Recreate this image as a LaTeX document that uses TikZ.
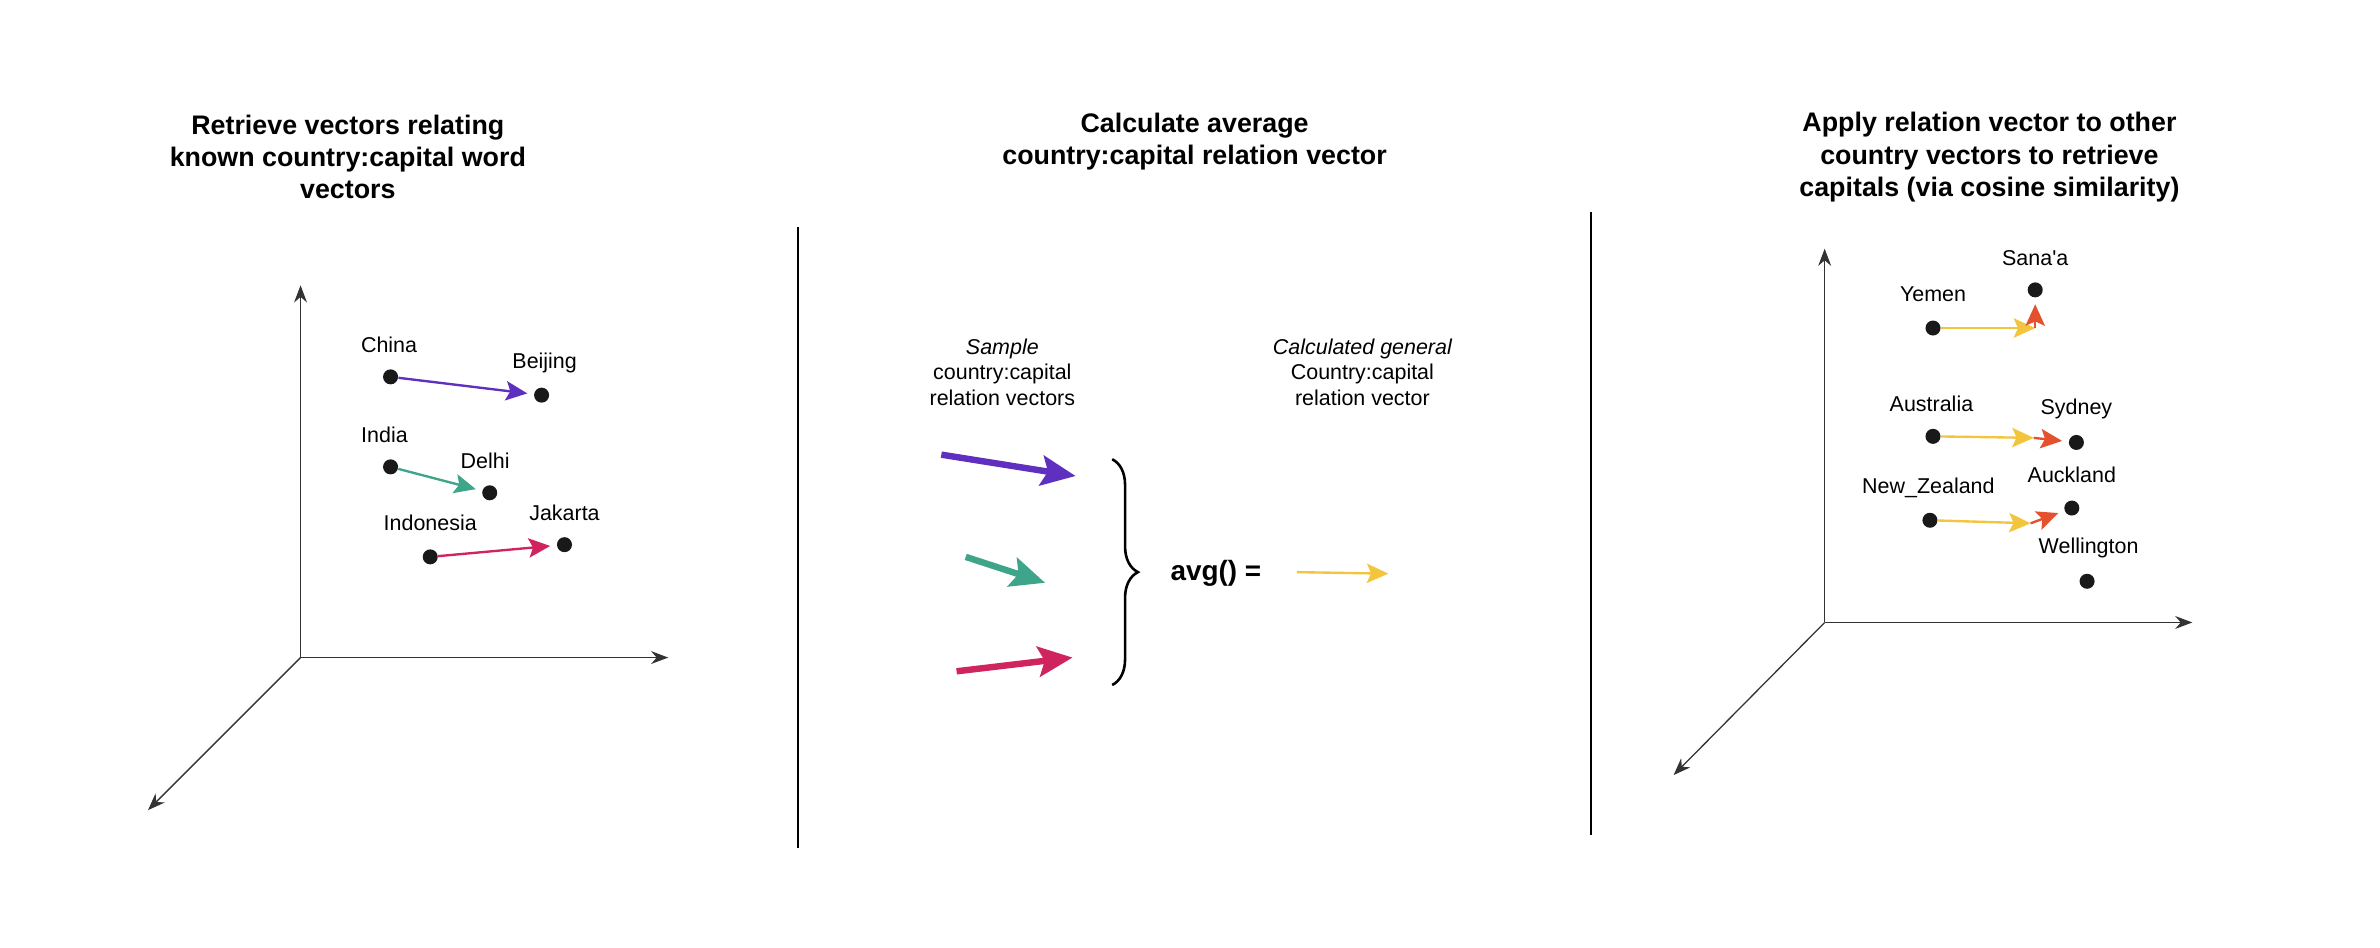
\documentclass[tikz,border=0pt]{standalone}
\usepackage{fontspec}
\setmainfont{Liberation Sans}
\usepackage{textcomp}
\usetikzlibrary{arrows.meta}
\usetikzlibrary{positioning}
\usetikzlibrary{decorations.pathreplacing}
\definecolor{vpurple}{HTML}{5F2FC0}
\definecolor{vteal}{HTML}{3FA58A}
\definecolor{vred}{HTML}{D0245E}
\definecolor{vyellow}{HTML}{F2C53D}
\definecolor{vorange}{HTML}{E4512E}
\definecolor{axisgray}{HTML}{333333}

\begin{document}
\begin{tikzpicture}[x=0.025cm, y=-0.025cm,
    axis/.style={-{Stealth[length=8pt,width=6pt]}, axisgray, line width=0.6pt},
    pt/.style={circle, fill=black!90, inner sep=0pt, minimum size=7pt},
    lbl/.style={font=\fontsize{10}{12}\selectfont},
    ttl/.style={font=\bfseries\fontsize{12.5}{15}\selectfont, align=center},
    vec/.style={-{Stealth[length=10pt,width=9pt,inset=2pt]}, line width=1.1pt, shorten >=3pt},
    fat/.style={-{Stealth[length=16pt,width=14pt,inset=3pt]}, line width=3pt}]
    \useasboundingbox (0,0) rectangle (1560,621);

    % titles
    \node[ttl] (t1) at (228,103) {Retrieve vectors relating\\known country:capital word\\vectors};
    \node[ttl] (t2) at (783,93) {Calculate average\\country:capital relation vector};
    \node[ttl] (t3) at (1304,103) {Apply relation vector to other\\country vectors to retrieve\\capitals (via cosine similarity)};

    % dividers
    \draw[line width=0.8pt] (523,149) -- (523,556);
    \draw[line width=0.8pt] (1043,139) -- (1043,547);

    % left axes
    \coordinate (o1) at (197,431);
    \draw[axis] (o1) -- (197,187);
    \draw[axis] (o1) -- (438,431);
    \draw[axis] (o1) -- (97,531);

    \node[pt] (china) at (256,247) {};
    \node[pt] (beijing) at (355,259) {};
    \node[pt] (india) at (256,306) {};
    \node[pt] (delhi) at (321,323) {};
    \node[pt] (indonesia) at (282,365) {};
    \node[pt] (jakarta) at (370,357) {};
    \node[lbl] at (255,226) {China};
    \node[lbl] at (357,238) {Beijing};
    \node[lbl] at (252,285) {India};
    \node[lbl] at (318,302) {Delhi};
    \node[lbl] at (282,343) {Indonesia};
    \node[lbl] at (370,336) {Jakarta};
    \draw[vec, vpurple] (china) -- (beijing);
    \draw[vec, vteal] (india) -- (delhi);
    \draw[vec, vred] (indonesia) -- (jakarta);

    % middle
    \node[lbl, align=center] (samp) at (657,244) {\itshape Sample\\country:capital\\relation vectors};
    \node[lbl, align=center] (gen) at (893,244) {\itshape Calculated general\\\upshape Country:capital\\relation vector};
    \draw[fat, vpurple] (617,298) -- (705,312);
    \draw[fat, vteal] (633,365) -- (685,382);
    \draw[fat, vred] (627,440) -- (703,431);
    \draw[decorate, decoration={brace, amplitude=12pt}, line width=1.2pt] (729,301) -- (729,449);
    \node[font=\bfseries\fontsize{13}{15}\selectfont] (avg) at (797,376) {avg() =};
    \draw[-{Stealth[length=10pt,width=9pt,inset=2pt]}, line width=1.1pt, vyellow] (850,375) -- (910,376);

    % right axes
    \coordinate (o2) at (1196,408);
    \draw[axis] (o2) -- (1196,163);
    \draw[axis] (o2) -- (1437,408);
    \draw[axis] (o2) -- (1097,508);

    \node[pt] (yemen) at (1267,215) {};
    \node[pt] (sanaa) at (1334,190) {};
    \node[pt] (australia) at (1267,286) {};
    \node[pt] (sydney) at (1361,290) {};
    \node[pt] (nz) at (1265,341) {};
    \node[pt] (auckland) at (1358,333) {};
    \node[pt] (wellington) at (1368,381) {};
    \node[lbl] at (1267,193) {Yemen};
    \node[lbl] at (1334,169) {Sana\textquotesingle a};
    \node[lbl] at (1266,265) {Australia};
    \node[lbl] at (1361,268) {Sydney};
    \node[lbl] at (1264,320) {New\_Zealand};
    \node[lbl] at (1358,311) {Auckland};
    \node[lbl] at (1369,359) {Wellington};
    \coordinate (y1) at (1334,215);
    \coordinate (a1) at (1333,287);
    \coordinate (n1) at (1331,343);
    \draw[vec, vyellow, shorten >=0pt] (yemen) -- (y1);
    \draw[vec, vorange] (y1) -- (sanaa);
    \draw[vec, vyellow, shorten >=0pt] (australia) -- (a1);
    \draw[vec, vorange] (a1) -- (sydney);
    \draw[vec, vyellow, shorten >=0pt] (nz) -- (n1);
    \draw[vec, vorange] (n1) -- (auckland);
\end{tikzpicture}
\end{document}
